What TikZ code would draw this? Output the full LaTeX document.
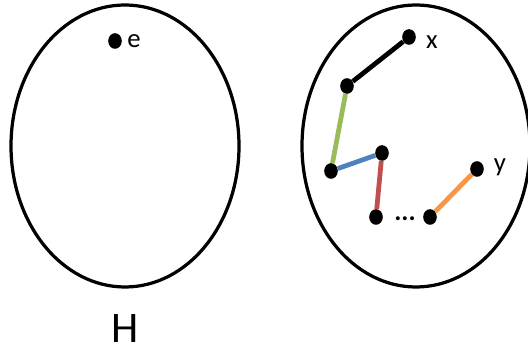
\documentclass[tikz,border=0pt]{standalone}
\usepackage{fontspec}
\setmainfont{Carlito}
\usetikzlibrary{shapes.geometric}
\definecolor{linkgreen}{HTML}{9BBB59}
\definecolor{linkblue}{HTML}{4F81BD}
\definecolor{linkred}{HTML}{C0504D}
\definecolor{linkorange}{HTML}{F79646}
\begin{document}
\begin{tikzpicture}[x=0.025cm,y=-0.025cm,
  vert/.style={ellipse,fill=black,inner sep=0pt,minimum width=0.34cm,minimum height=0.39cm},
  link/.style={line width=3.4pt},
  lbl/.style={inner sep=0pt,font=\fontsize{19}{19}\selectfont}]
\useasboundingbox (0,0) rectangle (528,352);
% the two sets
\draw[line width=2.3pt] (125,146) ellipse [x radius=114, y radius=141];
\draw[line width=2.3pt] (416,146) ellipse [x radius=114, y radius=141];
% left set
\node[vert] (e) at (115,41) {};
\node[lbl] (elabel) at (134,41) {e};
\node[inner sep=0pt,font=\fontsize{31}{31}\selectfont] (hlabel) at (125,329) {H};
% right set
\node[vert] (x) at (409,37) {};
\node[vert] (u1) at (347,86) {};
\node[vert] (u2) at (331,171) {};
\node[vert] (u3) at (382,153) {};
\node[vert] (u4) at (376,217) {};
\node[vert] (u5) at (430,217) {};
\node[vert] (y) at (477,169) {};
\node[lbl] (xlabel) at (432,42) {x};
\node[lbl] (ylabel) at (500,167) {y};
\node[lbl] (dots) at (405,219) {\textbf{...}};
\draw[link] (x) -- (u1);
\draw[link,linkgreen] (u1) -- (u2);
\draw[link,linkblue] (u2) -- (u3);
\draw[link,linkred] (u3) -- (u4);
\draw[link,linkorange] (u5) -- (y);
\end{tikzpicture}
\end{document}
